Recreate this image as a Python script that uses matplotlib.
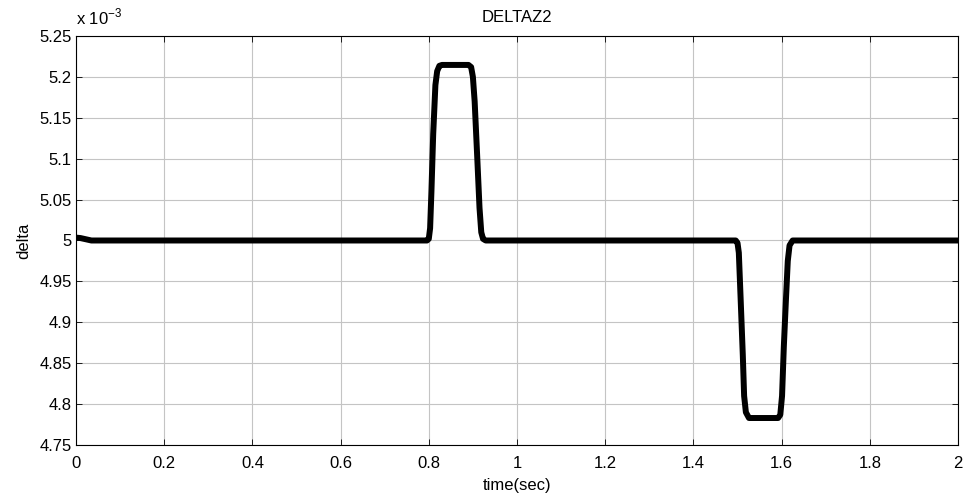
import matplotlib.pyplot as plt
import numpy as np

plt.rcParams['font.family'] = ['Liberation Sans', 'DejaVu Sans']
plt.rcParams['mathtext.fontset'] = 'custom'
plt.rcParams['mathtext.rm'] = 'Liberation Sans'

# time (s) and delta (in units of 1e-3)
time = [0, 0.01, 0.035, 0.796, 0.800, 0.803, 0.806, 0.810, 0.815, 0.819,
        0.824, 0.830, 0.890, 0.896, 0.900, 0.904, 0.910, 0.915, 0.919,
        0.923, 0.929, 1.496, 1.500, 1.503, 1.507, 1.512, 1.515, 1.519,
        1.526, 1.592, 1.597, 1.601, 1.605, 1.610, 1.614, 1.618, 1.625, 2.0]
delta = [5.0035, 5.003, 5.0, 5.0, 5.002, 5.015, 5.06, 5.13, 5.19, 5.207,
         5.2135, 5.2146, 5.2146, 5.212, 5.20, 5.17, 5.10, 5.04, 5.01,
         5.002, 5.0, 5.0, 4.997, 4.985, 4.93, 4.86, 4.81, 4.790,
         4.783, 4.783, 4.787, 4.81, 4.87, 4.93, 4.975, 4.994, 5.0, 5.0]
xticks = np.arange(0, 2.01, 0.2)
yticks = np.arange(4.75, 5.251, 0.05)

fig = plt.figure(figsize=(9.64, 4.99), dpi=100)
ax = fig.add_axes([0.0788, 0.1082, 0.9150, 0.8197])

ax.plot(time, delta, color='black', linewidth=4.3, solid_joinstyle='round',
        solid_capstyle='round')

ax.set_xlim(0, 2)
ax.set_ylim(4.75, 5.25)
ax.set_xticks(xticks)
ax.set_xticklabels(['%g' % round(v, 2) for v in xticks])
ax.set_yticks(yticks)
ax.set_yticklabels(['%g' % round(v, 2) for v in yticks])
ax.grid(True, color='#c4c4c4', linewidth=0.8, linestyle='-')
ax.tick_params(direction='in', top=True, right=True, length=4, width=0.6,
               labelsize=12)
ax.tick_params(axis='x', pad=8)
ax.tick_params(axis='y', pad=3)
for s in ax.spines.values():
    s.set_linewidth(0.8)

ax.set_title('DELTAZ2', fontsize=12, pad=10)
ax.set_xlabel('time(sec)', fontsize=12, labelpad=5)
ax.set_ylabel('delta', fontsize=12, labelpad=6)
ax.text(0.0, 1.02, r'x 10$^{\mathregular{-3}}$', transform=ax.transAxes,
        fontsize=12, ha='left', va='bottom')

fig.savefig('out.png', dpi=100)
